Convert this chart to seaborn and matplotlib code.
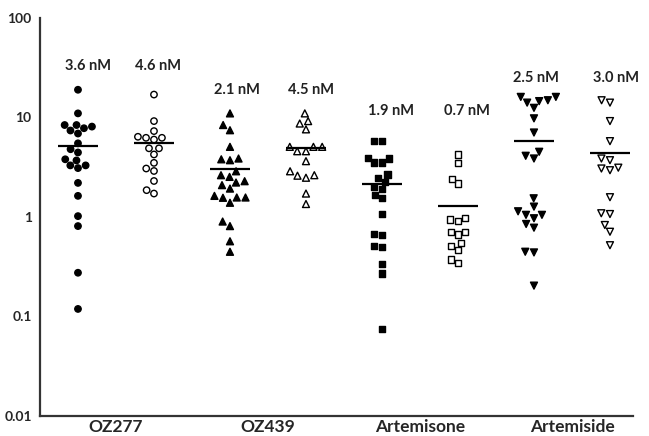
import numpy as np
import pandas as pd
import seaborn as sns
import matplotlib.pyplot as plt
from matplotlib.ticker import FixedLocator, FixedFormatter, NullLocator

# Drugs and IC50 values (nM): filled / open marker series
drugs = ['OZ277', 'OZ439', 'Artemisone', 'Artemiside']
markers = ['o', '^', 's', 'v']
marker_sizes = [4.6, 5.0, 4.4, 5.0]

oz277_filled = [19, 11, 8.1, 8.4, 7.8, 8.4, 6.9, 7.4, 5.5, 4.8, 4.45, 3.7, 3.8,
                3.3, 3.1, 3.3, 2.2, 1.63, 1.02, 0.81, 0.275, 0.119]
oz277_open = [17, 9.2, 7.3, 6.25, 6.0, 6.4, 6.25, 4.9, 4.25, 4.9, 3.5, 2.9, 3.07,
              2.3, 1.72, 1.86]
oz439_filled = [11, 7.45, 8.4, 5.07, 3.87, 3.72, 3.8, 2.88, 2.63, 2.53, 2.22, 2.29,
                2.09, 1.93, 1.57, 1.63, 1.57, 1.56, 1.39, 0.81, 0.9, 0.57, 0.447]
oz439_open = [11, 8.7, 9.2, 7.6, 5.07, 5.07, 5.07, 4.58, 4.58, 3.64, 2.63, 2.88,
              2.48, 2.6, 1.72, 1.35]
artemisone_filled = [5.78, 5.78, 3.53, 3.94, 3.53, 3.87, 2.44, 2.67, 2.0, 1.93,
                     2.26, 1.56, 1.66, 1.07, 0.66, 0.68, 0.51, 0.5, 0.34, 0.27, 0.075]
artemisone_open = [4.25, 3.51, 2.17, 2.4, 0.944, 0.91, 0.97, 0.71, 0.667, 0.71,
                   0.51, 0.47, 0.55, 0.347, 0.374]
artemiside_filled = [16.1, 14.6, 16.1, 14.9, 14.1, 12.5, 9.8, 7.06, 4.12, 3.87,
                     4.52, 1.54, 1.27, 1.05, 0.97, 1.05, 1.14, 0.78, 0.85, 0.447,
                     0.44, 0.204]
artemiside_open = [14.1, 14.9, 9.2, 5.78, 3.87, 3.72, 3.13, 2.95, 3.07, 1.58, 1.07,
                   1.09, 0.83, 0.71, 0.52]

series = [oz277_filled, oz277_open, oz439_filled, oz439_open,
          artemisone_filled, artemisone_open, artemiside_filled, artemiside_open]
columns = [d + s for d in drugs for s in [' filled', ' open']]

labels = ['3.6 nM', '4.6 nM', '2.1 nM', '4.5 nM', '1.9 nM', '0.7 nM', '2.5 nM', '3.0 nM']
label_y = [33, 33, 19, 19, 11.6, 11.6, 25, 25]
label_dx = [0.13, 0.05, 0.09, 0.07, 0.12, 0.12, 0.02, 0.08]

rows = []
for col, vals in zip(columns, series):
    for v in vals:
        rows.append({'column': col, 'drug': col.rsplit(' ', 1)[0],
                     'fill': col.rsplit(' ', 1)[1], 'ic50': v})
df = pd.DataFrame(rows)

sns.set_style('white')
plt.rcParams['font.family'] = ['Lato', 'DejaVu Sans']
plt.rcParams['font.weight'] = 'bold'

fig = plt.figure(figsize=(6.49, 4.36), dpi=100)
ax = fig.add_axes([0.0616, 0.046, 0.9134, 0.9127])
ax.set_yscale('log')

for drug, m, ms in zip(drugs, markers, marker_sizes):
    sub = df[df['drug'] == drug]
    sns.swarmplot(data=sub, x='column', y='ic50', order=columns, hue='fill',
                  palette={'filled': 'black', 'open': 'white'}, marker=m,
                  size=ms, edgecolor='black', linewidth=1.0, legend=False, ax=ax)

# mean lines
means = [np.mean(v) for v in series]
pos = np.arange(len(columns))
ax.hlines(means, pos - 0.26, pos + 0.26, color='black', linewidth=1.6, zorder=5)

for x, y, t, dx in zip(pos, label_y, labels, label_dx):
    ax.text(x + dx, y, t, ha='center', va='center', fontsize=10.5,
            fontweight='bold', color='#222222')

ax.set_ylim(0.01, 100)
ax.set_xlim(-0.5, 7.3)
ax.yaxis.set_major_locator(FixedLocator([0.01, 0.1, 1, 10, 100]))
ax.yaxis.set_major_formatter(FixedFormatter(['0.01', '0.1', '1', '10', '100']))
ax.yaxis.set_minor_locator(NullLocator())
ax.set_xticks([0.5, 2.5, 4.5, 6.5])
ax.set_xticklabels(drugs, fontsize=12.5, fontweight='bold')
for t in ax.get_yticklabels():
    t.set_fontweight('bold')
ax.tick_params(axis='y', labelsize=10, length=0, pad=6)
ax.tick_params(axis='x', length=0, pad=2)
ax.set_xlabel('')
ax.set_ylabel('')
sns.despine(ax=ax)
for s in ['left', 'bottom']:
    ax.spines[s].set_color('#333333')
    ax.spines[s].set_linewidth(1.6)

fig.savefig('out.png', dpi=100)
